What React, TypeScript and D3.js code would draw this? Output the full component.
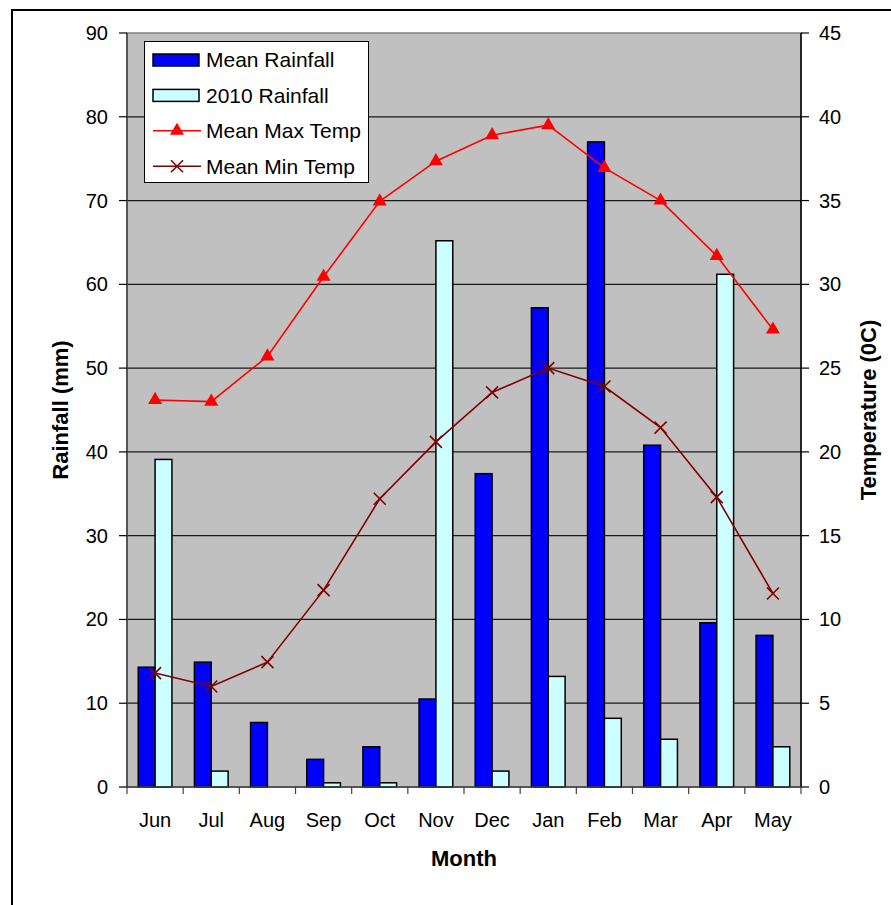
import React from "react";
import * as d3 from "d3";

const months = ["Jun","Jul","Aug","Sep","Oct","Nov","Dec","Jan","Feb","Mar","Apr","May"];
const meanRainfall = [14.3, 14.9, 7.7, 3.3, 4.8, 10.5, 37.4, 57.2, 77.0, 40.8, 19.6, 18.1];
const rainfall2010 = [39.1, 1.9, 0, 0.5, 0.5, 65.2, 1.9, 13.2, 8.2, 5.7, 61.2, 4.8];
const meanMaxTemp = [23.1, 23.0, 25.7, 30.45, 34.95, 37.35, 38.9, 39.5, 36.95, 35.0, 31.7, 27.3];
const meanMinTemp = [6.8, 6.0, 7.45, 11.75, 17.2, 20.6, 23.55, 25.0, 23.9, 21.45, 17.3, 11.55];
const leftTicks = [0,10,20,30,40,50,60,70,80,90];
const rightTicks = [0,5,10,15,20,25,30,35,40,45];

const W = 891, H = 905;
const L = 127, R = 801, T = 33, B = 787;
const FONT = "'Liberation Sans', Arial, sans-serif";

export default function App() {
  const x0 = d3.scaleBand<string>().domain(months).range([L, R]).padding(0);
  const bw = x0.bandwidth();
  const barW = bw * 0.3;
  const off = (bw - 2 * barW) / 2;
  const x1 = d3.scaleBand<string>().domain(["mean","y2010"]).range([off, off + 2 * barW]).padding(0);
  const yL = d3.scaleLinear().domain([0, 90]).range([B, T]);
  const yR = d3.scaleLinear().domain([0, 45]).range([B, T]);
  const cx = (m: string) => (x0(m) as number) + bw / 2;

  const lineMax = d3.line<number>().x((_, i) => cx(months[i])).y(d => yR(d))(meanMaxTemp) as string;
  const lineMin = d3.line<number>().x((_, i) => cx(months[i])).y(d => yR(d))(meanMinTemp) as string;
  const tri = d3.symbol().type(d3.symbolTriangle).size(85)() as string;

  const legendItems = [
    { label: "Mean Rainfall", kind: "bar", fill: "#0000FF" },
    { label: "2010 Rainfall", kind: "bar", fill: "#CCFFFF" },
    { label: "Mean Max Temp", kind: "tri", color: "#FF0000" },
    { label: "Mean Min Temp", kind: "x", color: "#800000" },
  ];

  const xMark = (x: number, y: number, c: string, k: string) => (
    <g key={k} stroke={c} strokeWidth={1.6}>
      <line x1={x - 6} y1={y - 6} x2={x + 6} y2={y + 6} />
      <line x1={x - 6} y1={y + 6} x2={x + 6} y2={y - 6} />
    </g>
  );

  return (
    <svg width={W} height={H} style={{ position: "absolute", left: 0, top: 0, background: "#fff" }} fontFamily={FONT}>
      <rect x={0} y={0} width={W} height={H} fill="#fff" />
      <rect x={12} y={10} width={W + 20} height={H + 20} fill="none" stroke="#000" strokeWidth={2} />
      {/* plot area */}
      <rect x={L} y={T} width={R - L} height={B - T} fill="#C0C0C0" stroke="#808080" strokeWidth={1.5} />
      {/* gridlines */}
      {leftTicks.filter(t => t > 0 && t < 90).map(t => (
        <line key={"g" + t} x1={L} x2={R} y1={yL(t)} y2={yL(t)} stroke="#1a1a1a" strokeWidth={1.2} />
      ))}
      {/* bars */}
      {months.map((m, i) => (
        <g key={"b" + m}>
          <rect x={(x0(m) as number) + (x1("mean") as number)} y={yL(meanRainfall[i])} width={barW}
            height={B - yL(meanRainfall[i])} fill="#0000FF" stroke="#000" strokeWidth={1.5} />
          {rainfall2010[i] > 0 && (
            <rect x={(x0(m) as number) + (x1("y2010") as number)} y={yL(rainfall2010[i])} width={barW}
              height={B - yL(rainfall2010[i])} fill="#CCFFFF" stroke="#000" strokeWidth={1.5} />
          )}
        </g>
      ))}
      {/* lines */}
      <path d={lineMax} fill="none" stroke="#FF0000" strokeWidth={1.6} />
      {meanMaxTemp.map((v, i) => (
        <path key={"t" + i} d={tri} transform={`translate(${cx(months[i])},${yR(v)})`} fill="#FF0000" />
      ))}
      <path d={lineMin} fill="none" stroke="#800000" strokeWidth={1.6} />
      {meanMinTemp.map((v, i) => xMark(cx(months[i]), yR(v), "#800000", "x" + i))}
      {/* axes */}
      <line x1={L} x2={L} y1={T} y2={B} stroke="#404040" strokeWidth={1.5} />
      <line x1={R} x2={R} y1={T} y2={B} stroke="#000" strokeWidth={1.5} />
      <line x1={L} x2={R} y1={B} y2={B} stroke="#404040" strokeWidth={1.5} />
      {leftTicks.map(t => (
        <g key={"lt" + t}>
          <line x1={L - 8} x2={L} y1={yL(t)} y2={yL(t)} stroke="#000" strokeWidth={1.2} />
          <text x={108} y={yL(t)} dy="0.35em" textAnchor="end" fontSize={20} fill="#000">{t}</text>
        </g>
      ))}
      {rightTicks.map(t => (
        <g key={"rt" + t}>
          <line x1={R} x2={R + 8} y1={yR(t)} y2={yR(t)} stroke="#000" strokeWidth={1.2} />
          <text x={819} y={yR(t)} dy="0.35em" textAnchor="start" fontSize={20} fill="#000">{t}</text>
        </g>
      ))}
      {d3.range(months.length + 1).map(i => (
        <line key={"xt" + i} x1={L + i * bw} x2={L + i * bw} y1={B} y2={B + 7} stroke="#404040" strokeWidth={1.2} />
      ))}
      {months.map(m => (
        <text key={"xl" + m} x={cx(m)} y={827} textAnchor="middle" fontSize={20} fill="#000">{m}</text>
      ))}
      {/* axis titles */}
      <text x={464} y={866} textAnchor="middle" fontSize={22} fontWeight="bold" fill="#000">Month</text>
      <text transform={`translate(68,${(T + B) / 2}) rotate(-90)`} textAnchor="middle" fontSize={22} fontWeight="bold" fill="#000">Rainfall (mm)</text>
      <text transform={`translate(876,${(T + B) / 2}) rotate(-90)`} textAnchor="middle" fontSize={22} fontWeight="bold" fill="#000">Temperature (0C)</text>
      {/* legend */}
      <rect x={144.5} y={41.5} width={224} height={141} fill="#fff" stroke="#000" strokeWidth={1} />
      {legendItems.map((it, i) => {
        const yc = 60 + i * 35.4;
        return (
          <g key={"lg" + i}>
            {it.kind === "bar" && (
              <rect x={153} y={yc - 6} width={46} height={12} fill={it.fill} stroke="#000" strokeWidth={1.5} />
            )}
            {it.kind === "tri" && (
              <g>
                <line x1={153} x2={201} y1={yc} y2={yc} stroke={it.color} strokeWidth={1.6} />
                <path d={tri} transform={`translate(177,${yc})`} fill={it.color} />
              </g>
            )}
            {it.kind === "x" && (
              <g>
                <line x1={153} x2={201} y1={yc} y2={yc} stroke={it.color} strokeWidth={1.6} />
                {xMark(177, yc, it.color as string, "lx")}
              </g>
            )}
            <text x={206} y={yc} dy="0.35em" fontSize={21} fill="#000">{it.label}</text>
          </g>
        );
      })}
    </svg>
  );
}
